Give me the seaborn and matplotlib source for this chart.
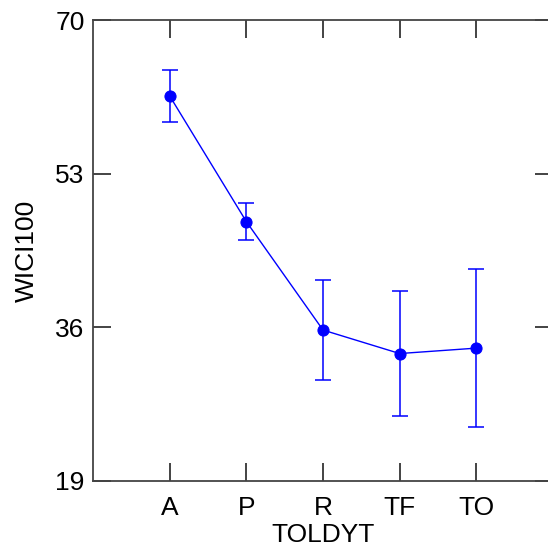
import matplotlib
matplotlib.use("Agg")
import matplotlib.pyplot as plt
import seaborn as sns
import pandas as pd

groups = ["A", "P", "R", "TF", "TO"]
means = [61.6, 47.7, 35.7, 33.1, 33.7]
errs = [2.9, 2.0, 5.5, 6.9, 8.7]
yticks = [19, 36, 53, 70]

df = pd.DataFrame({"TOLDYT": groups, "WICI100": means})

sns.set_style("white")
plt.rcParams["font.family"] = ["Liberation Sans", "DejaVu Sans"]
plt.rcParams["text.color"] = "black"
plt.rcParams["axes.labelcolor"] = "black"

fig = plt.figure(figsize=(5.48, 5.55), dpi=100)
ax = fig.add_axes([93 / 548, 1 - 481 / 555, 460 / 548, 461 / 555])

sns.pointplot(data=df, x="TOLDYT", y="WICI100", color="#0000ff", errorbar=None,
              markers="o", linewidth=1.0, markersize=8, ax=ax)
ax.errorbar(range(len(groups)), means, yerr=errs, fmt="none", ecolor="#0000ff",
            elinewidth=1.1, capsize=6, capthick=1.1)

ax.set_xlim(-1, 5)
ax.set_ylim(19, 70)
ax.set_yticks(yticks)
ax.tick_params(direction="in", length=13, width=1.1, colors="#111111",
               labelsize=19, top=True, right=True, bottom=True, left=True,
               labelcolor="black")
ax.tick_params(axis="x", pad=11)
ax.tick_params(axis="y", pad=6)
for s in ax.spines.values():
    s.set_color("#444444")
    s.set_linewidth(1.3)
ax.set_xlabel("TOLDYT", fontsize=19, labelpad=2)
ax.set_ylabel("WICI100", fontsize=19, labelpad=12)

fig.savefig("out.png", dpi=100)
